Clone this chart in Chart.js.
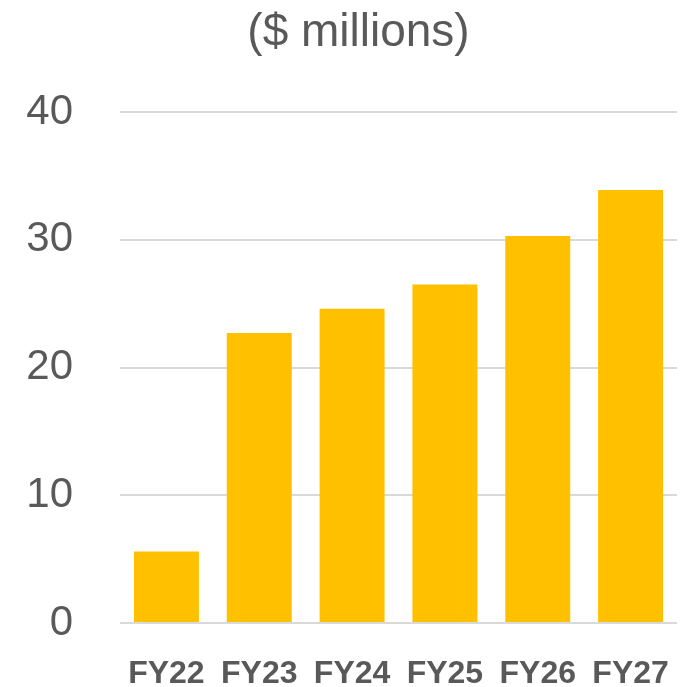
<!DOCTYPE html>
<html>
<head>
<meta charset="utf-8">
<script src="https://cdn.jsdelivr.net/npm/chart.js@4"></script>
<style>
html,body{margin:0;padding:0;background:#fff;}
#wrap{width:685px;height:687px;}
</style>
</head>
<body>
<div id="wrap"><canvas id="c" width="685" height="687"></canvas></div>
<script>
const categories = ["FY22", "FY23", "FY24", "FY25", "FY26", "FY27"];
const revenue = [5.6, 22.7, 24.6, 26.5, 30.3, 33.9];
const yTicks = [0, 10, 20, 30, 40];
const titleText = "($ millions)";

const titlePlugin = {
  id: 'fixedTitle',
  afterDraw(chart) {
    const ctx = chart.ctx;
    ctx.save();
    ctx.font = '46px "Liberation Sans", Arial, sans-serif';
    ctx.fillStyle = '#595959';
    ctx.textAlign = 'center';
    ctx.textBaseline = 'middle';
    ctx.fillText(titleText, 358.5, 33);
    ctx.restore();
  }
};

new Chart(document.getElementById('c'), {
  type: 'bar',
  data: {
    labels: categories,
    datasets: [{
      data: revenue,
      backgroundColor: '#FFC000',
      borderWidth: 0,
      barPercentage: 0.7,
      categoryPercentage: 1.0
    }]
  },
  options: {
    responsive: false,
    animation: false,
    layout: { padding: { top: 112, right: 8, left: 0, bottom: 0 } },
    plugins: {
      legend: { display: false },
      title: { display: false },
      tooltip: { enabled: false }
    },
    scales: {
      x: {
        grid: { display: false, drawTicks: false },
        border: { display: false },
        ticks: {
          color: '#595959',
          padding: 35,
          maxRotation: 0,
          minRotation: 0,
          autoSkip: false,
          font: { family: '"Liberation Sans", Arial, sans-serif', size: 32, weight: 'bold', lineHeight: 1 }
        },
        afterFit(scale) {
          scale.height = 64;
          scale.paddingLeft = 0;
          scale.paddingRight = 0;
        }
      },
      y: {
        min: 0,
        max: 40,
        afterBuildTicks(scale) { scale.ticks = yTicks.map(v => ({ value: v })); },
        grid: { color: '#D9D9D9', lineWidth: 2, drawTicks: false },
        border: { display: false },
        ticks: {
          color: '#595959',
          padding: 47,
          font: { family: '"Liberation Sans", Arial, sans-serif', size: 42, lineHeight: 1 }
        },
        afterFit(scale) {
          scale.width = 120;
          scale.paddingTop = 0;
          scale.paddingBottom = 0;
        }
      }
    }
  },
  plugins: [titlePlugin]
});
</script>
</body>
</html>
